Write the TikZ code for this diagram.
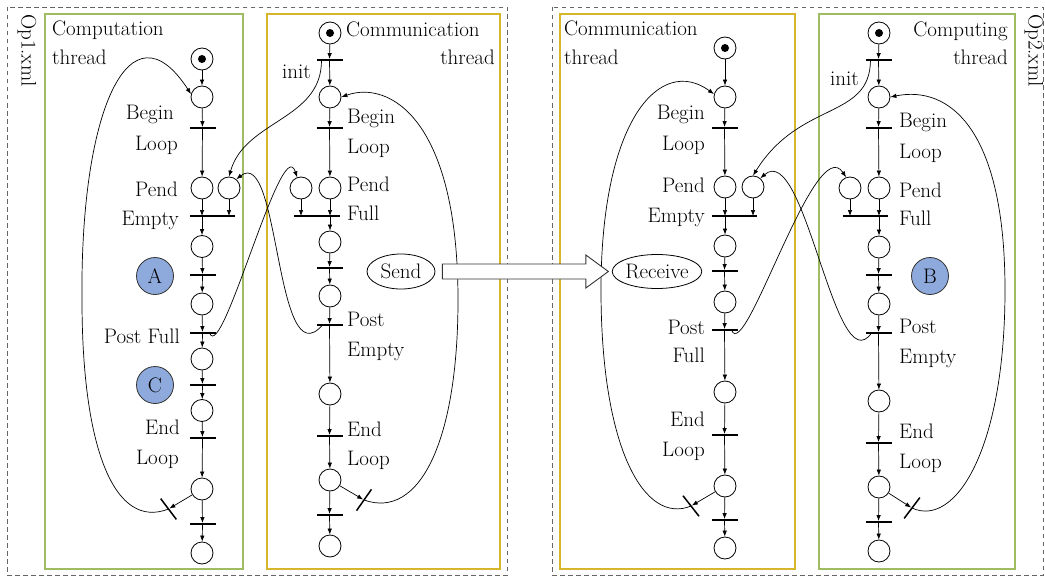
\documentclass[tikz,border=0pt]{standalone}
\usetikzlibrary{arrows.meta,shapes.geometric,calc}
\definecolor{boxgreen}{RGB}{158,189,98}
\definecolor{boxgold}{RGB}{214,182,42}
\definecolor{bluefill}{RGB}{142,169,219}
\begin{document}
\begin{tikzpicture}[x=1pt,y=-1pt]
\tikzset{
 pplace/.style={circle,draw,line width=0.8pt,minimum size=22pt,inner sep=0pt},
 pmark/.style={pplace,path picture={\fill (path picture bounding box.center) circle[radius=4pt];}},
 ptrans/.style={rectangle,fill=black,draw=none,minimum height=1.5pt,minimum width=26pt,inner sep=0pt},
 parc/.style={-{Latex[length=6pt,width=4.5pt]},line width=0.7pt},
 plbl/.style={font=\fontsize{21}{25}\selectfont,inner sep=0pt},
 ptask/.style={circle,draw=black!80,line width=0.8pt,fill=bluefill,minimum size=37pt,inner sep=0pt,font=\fontsize{21}{25}\selectfont},
 pmsg/.style={ellipse,draw,line width=0.8pt,inner sep=0pt,font=\fontsize{21}{25}\selectfont},
 pframe/.style={draw=black!60,line width=0.8pt,dash pattern=on 4.5pt off 3.5pt},
 pthread/.style={line width=2.5pt}
}
\useasboundingbox (0,0) rectangle (1045,578);
% frames
\draw[pframe] (7,7) rectangle (507,575);
\draw[pframe] (552,7) rectangle (1043,575);
\draw[pthread,draw=boxgreen] (45,14) rectangle (243,569);
\draw[pthread,draw=boxgold] (267,14) rectangle (500,569);
\draw[pthread,draw=boxgold] (560,14) rectangle (795,569);
\draw[pthread,draw=boxgreen] (819,14) rectangle (1015,569);
\node[plbl,rotate=-90,anchor=west] (op1) at (27,14) {Op1.xml};
\node[plbl,rotate=-90,anchor=west] (op2) at (1034,14) {Op2.xml};

% ---------- left computation thread
\node[pmark] (a0) at (202,59) {};
\node[pplace] (a1) at (202,97) {};
\node[ptrans] (ta1) at (202.5,128) {};
\node[pplace] (a2) at (202,188) {};
\node[pplace] (a2b) at (229,188) {};
\node[ptrans,minimum width=45pt] (ta2) at (212.5,216) {};
\node[pplace] (a3) at (202,246.5) {};
\node[ptrans] (ta3) at (202.5,275) {};
\node[pplace] (a4) at (202,304) {};
\node[ptrans] (ta4) at (202.5,333) {};
\node[pplace] (a5) at (202,359) {};
\node[ptrans] (ta5) at (202.5,385) {};
\node[pplace] (a6) at (202,410.5) {};
\node[ptrans] (ta6) at (202.5,438) {};
\node[pplace] (a7) at (202,489) {};
\node[ptrans] (ta7) at (202.5,524) {};
\node[pplace] (a8) at (202,553) {};
\node[ptrans,rotate=-53] (tax) at (168.5,509) {};
\node[ptask] (A) at (155,276) {A};
\node[ptask] (C) at (155,385) {C};
\node[plbl,anchor=base west] (ta) at (52,36) {Computation};
\node[plbl,anchor=base west] (tb) at (52,65) {thread};
\node[plbl,anchor=base east] (l1) at (174,120) {Begin};
\node[plbl,anchor=base east] (l2) at (178,150) {Loop};
\node[plbl,anchor=base east] (l3) at (178,196) {Pend};
\node[plbl,anchor=base east] (l4) at (179,225) {Empty};
\node[plbl,anchor=base east] (l5) at (180,343) {Post Full};
\node[plbl,anchor=base east] (l6) at (180,434) {End};
\node[plbl,anchor=base east] (l7) at (179,464) {Loop};

\draw[parc] (a0) -- (a1);
\draw[parc] (a1) -- (ta1);
\draw[parc] (ta1) -- (a2);
\draw[parc] (a2) -- (a2 |- ta2);
\draw[parc] (a2b) -- (a2b |- ta2);
\draw[parc] (a2 |- ta2) -- (a3);
\draw[parc] (a3) -- (ta3);
\draw[parc] (ta3) -- (a4);
\draw[parc] (a4) -- (ta4);
\draw[parc] (ta4) -- (a5);
\draw[parc] (a5) -- (ta5);
\draw[parc] (ta5) -- (a6);
\draw[parc] (a6) -- (ta6);
\draw[parc] (ta6) -- (a7);
\draw[parc] (a7) -- (ta7);
\draw[parc] (ta7) -- (a8);
\draw[parc] (a7) -- (tax);
\draw[parc] (tax.center) .. controls (115,530) and (82,450) .. (82,300) .. controls (80,110) and (130,0) .. (a1.165);

% ---------- left communication thread
\node[pmark] (b0) at (330,33) {};
\node[ptrans] (tb0) at (329.5,60) {};
\node[pplace] (b1) at (330,97) {};
\node[ptrans] (tb1) at (329.5,128) {};
\node[pplace] (b2) at (330,188) {};
\node[pplace] (b2b) at (301,188) {};
\node[ptrans,minimum width=46pt] (tb2) at (317,216) {};
\node[pplace] (b3) at (330,242) {};
\node[ptrans] (tb3) at (329.5,268) {};
\node[pplace] (b4) at (330,296) {};
\node[ptrans] (tb4) at (329.5,325) {};
\node[pplace] (b5) at (330,394) {};
\node[ptrans] (tb5) at (329.5,436) {};
\node[pplace] (b6) at (330,480) {};
\node[ptrans] (tb6) at (329.5,515) {};
\node[pplace] (b7) at (330,546) {};
\node[ptrans,rotate=55] (tbx) at (364,500) {};
\node[pmsg,minimum width=68pt,minimum height=35pt] (send) at (401,271.5) {Send};
\node[plbl,anchor=base west] (tc) at (346,37) {Communication};
\node[plbl,anchor=base east] (td) at (495,65) {thread};
\node[plbl,anchor=base west] (ini1) at (282,79) {init};
\node[plbl,anchor=base west] (m1) at (347,123) {Begin};
\node[plbl,anchor=base west] (m2) at (347,153) {Loop};
\node[plbl,anchor=base west] (m3) at (347,191) {Pend};
\node[plbl,anchor=base west] (m4) at (347,220) {Full};
\node[plbl,anchor=base west] (m5) at (347,326) {Post};
\node[plbl,anchor=base west] (m6) at (347,356) {Empty};
\node[plbl,anchor=base west] (m7) at (347,436) {End};
\node[plbl,anchor=base west] (m8) at (347,465) {Loop};

\draw[parc] (b0) -- (tb0);
\draw[parc] (tb0) -- (b1);
\draw[parc] (b1) -- (tb1);
\draw[parc] (tb1) -- (b2);
\draw[parc] (b2) -- (b2 |- tb2);
\draw[parc] (b2b) -- (b2b |- tb2);
\draw[parc] (b2 |- tb2) -- (b3);
\draw[parc] (b3) -- (tb3);
\draw[parc] (tb3) -- (b4);
\draw[parc] (b4) -- (tb4);
\draw[parc] (tb4) -- (b5);
\draw[parc] (b5) -- (tb5);
\draw[parc] (tb5) -- (b6);
\draw[parc] (b6) -- (tb6);
\draw[parc] (tb6) -- (b7);
\draw[parc] (b6) -- (tbx);
\draw[parc] (tbx.center) .. controls (420,520) and (458,440) .. (458,300) .. controls (458,120) and (390,80) .. (b1.east);

% cross arcs left
\draw[parc] ([xshift=-8pt]tb0.center) .. controls (322,120) and (245,120) .. (a2b.north);
\draw[parc] ([xshift=7pt]ta4.center) .. controls (222,365) and (282,130) .. (b2b.110);
\draw[parc] ([xshift=-7pt]tb4.center) .. controls (275,380) and (280,145) .. (a2b.50);

% ---------- right communication thread
\node[pmark] (c0) at (725,48) {};
\node[pplace] (c1) at (725,97) {};
\node[ptrans] (tc1) at (724.5,128) {};
\node[pplace] (c2) at (725,187) {};
\node[pplace] (c2b) at (753,187) {};
\node[ptrans,minimum width=45pt] (tc2) at (734.5,216) {};
\node[pplace] (c3) at (725,246) {};
\node[ptrans] (tc3) at (724.5,271) {};
\node[pplace] (c4) at (725,302) {};
\node[ptrans] (tc4) at (724.5,330) {};
\node[pplace] (c5) at (725,392) {};
\node[ptrans] (tc5) at (724.5,435) {};
\node[pplace] (c6) at (725,486) {};
\node[ptrans] (tc6) at (724.5,520) {};
\node[pplace] (c7) at (725,548) {};
\node[ptrans,rotate=-52] (tcx) at (691,506) {};
\node[pmsg,minimum width=82pt,minimum height=34pt] (receive) at (657,271.5) {Receive};
\node[plbl,anchor=base west] (te) at (564,36) {Communication};
\node[plbl,anchor=base west] (tf) at (564,65) {thread};
\node[plbl,anchor=base east] (n1) at (705,119) {Begin};
\node[plbl,anchor=base east] (n2) at (705,150) {Loop};
\node[plbl,anchor=base east] (n3) at (705,192) {Pend};
\node[plbl,anchor=base east] (n4) at (705,222) {Empty};
\node[plbl,anchor=base east] (n5) at (705,334) {Post};
\node[plbl,anchor=base east] (n6) at (705,362) {Full};
\node[plbl,anchor=base east] (n7) at (705,426) {End};
\node[plbl,anchor=base east] (n8) at (705,456) {Loop};

\draw[parc] (c0) -- (c1);
\draw[parc] (c1) -- (tc1);
\draw[parc] (tc1) -- (c2);
\draw[parc] (c2) -- (c2 |- tc2);
\draw[parc] (c2b) -- (c2b |- tc2);
\draw[parc] (c2 |- tc2) -- (c3);
\draw[parc] (c3) -- (tc3);
\draw[parc] (tc3) -- (c4);
\draw[parc] (c4) -- (tc4);
\draw[parc] (tc4) -- (c5);
\draw[parc] (c5) -- (tc5);
\draw[parc] (tc5) -- (c6);
\draw[parc] (c6) -- (tc6);
\draw[parc] (tc6) -- (c7);
\draw[parc] (c6) -- (tcx);
\draw[parc] (tcx.center) .. controls (645,525) and (601,450) .. (601,290) .. controls (601,120) and (660,55) .. (c1.165);

% ---------- right computing thread
\node[pmark] (d0) at (879,33) {};
\node[ptrans] (td0) at (878.5,60) {};
\node[pplace] (d1) at (879,97) {};
\node[ptrans] (td1) at (878.5,128) {};
\node[pplace] (d2) at (879,188) {};
\node[pplace] (d2b) at (850,188) {};
\node[ptrans,minimum width=45pt] (td2) at (865.5,216) {};
\node[pplace] (d3) at (879,247) {};
\node[ptrans] (td3) at (878.5,275) {};
\node[pplace] (d4) at (879,304) {};
\node[ptrans] (td4) at (878.5,333) {};
\node[pplace] (d5) at (879,401) {};
\node[ptrans] (td5) at (878.5,443) {};
\node[pplace] (d6) at (879,487) {};
\node[ptrans] (td6) at (878.5,522) {};
\node[pplace] (d7) at (879,551) {};
\node[ptrans,rotate=53] (tdx) at (912,508) {};
\node[ptask] (B) at (930,276) {B};
\node[plbl,anchor=base east] (tg) at (1008,37) {Computing};
\node[plbl,anchor=base east] (th) at (1008,65) {thread};
\node[plbl,anchor=base west] (ini2) at (830,86) {init};
\node[plbl,anchor=base west] (k1) at (899,128) {Begin};
\node[plbl,anchor=base west] (k2) at (899,158) {Loop};
\node[plbl,anchor=base west] (k3) at (899,197) {Pend};
\node[plbl,anchor=base west] (k4) at (899,225) {Full};
\node[plbl,anchor=base west] (k5) at (899,333) {Post};
\node[plbl,anchor=base west] (k6) at (899,363) {Empty};
\node[plbl,anchor=base west] (k7) at (899,438) {End};
\node[plbl,anchor=base west] (k8) at (899,468) {Loop};

\draw[parc] (d0) -- (td0);
\draw[parc] (td0) -- (d1);
\draw[parc] (d1) -- (td1);
\draw[parc] (td1) -- (d2);
\draw[parc] (d2) -- (d2 |- td2);
\draw[parc] (d2b) -- (d2b |- td2);
\draw[parc] (d2 |- td2) -- (d3);
\draw[parc] (d3) -- (td3);
\draw[parc] (td3) -- (d4);
\draw[parc] (d4) -- (td4);
\draw[parc] (td4) -- (d5);
\draw[parc] (d5) -- (td5);
\draw[parc] (td5) -- (d6);
\draw[parc] (d6) -- (td6);
\draw[parc] (td6) -- (d7);
\draw[parc] (d6) -- (tdx);
\draw[parc] (tdx.center) .. controls (955,528) and (1005,450) .. (1005,290) .. controls (1005,130) and (950,85) .. (d1.east);

% cross arcs right
\draw[parc] ([xshift=-8pt]td0.center) .. controls (870,120) and (800,100) .. (c2b.north);
\draw[parc] ([xshift=7pt]tc4.center) .. controls (745,365) and (815,130) .. (d2b.110);
\draw[parc] ([xshift=-7pt]td4.center) .. controls (835,385) and (805,140) .. (c2b.50);

% message arrow
\draw[line width=0.9pt,draw=black!80,fill=white]
  ($(send.east)+(7,-7.5)$) -- ($(receive.west)+(-26,-7.5)$) -- ($(receive.west)+(-26,-16.5)$)
  -- ($(receive.west)+(-3.5,0)$) -- ($(receive.west)+(-26,16.5)$) -- ($(receive.west)+(-26,7.5)$)
  -- ($(send.east)+(7,7.5)$) -- cycle;
\end{tikzpicture}
\end{document}
